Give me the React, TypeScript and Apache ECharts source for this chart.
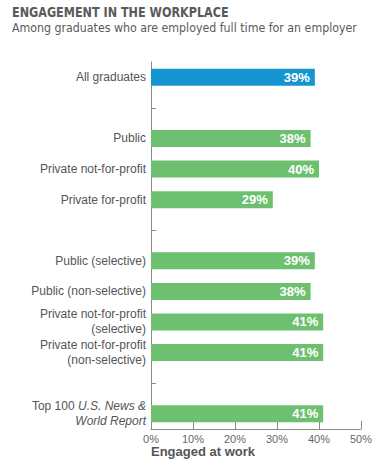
import React, { useEffect, useRef } from "react";
import * as echarts from "echarts";

const categories = [
  "All graduates",
  "gap1",
  "Public",
  "Private not-for-profit",
  "Private for-profit",
  "gap2",
  "Public (selective)",
  "Public (non-selective)",
  "Private not-for-profit\n(selective)",
  "Private not-for-profit\n(non-selective)",
  "gap3",
  "Top 100",
];
const values: (number | null)[] = [39, null, 38, 40, 29, null, 39, 38, 41, 41, null, 41];
const highlight = [true, false, false, false, false, false, false, false, false, false, false, false];
const xTicks = [0, 10, 20, 30, 40, 50];

const BLUE = "#1595d0";
const GREEN = "#6cc070";

export default function App() {
  const ref = useRef<HTMLDivElement>(null);
  useEffect(() => {
    const chart = echarts.init(ref.current!, null, { renderer: "svg" });
    chart.setOption({
      animation: false,
      graphic: [
        {
          type: "text",
          x: 12,
          y: 5,
          scaleX: 0.89,
          style: {
            text: "ENGAGEMENT IN THE WORKPLACE",
            font: 'bold 14px "DejaVu Sans Condensed", "DejaVu Sans"',
            fill: "#5a5a5a",
            textVerticalAlign: "top",
          },
        },
        {
          type: "text",
          x: 12,
          y: 21,
          scaleX: 0.945,
          style: {
            text: "Among graduates who are employed full time for an employer",
            font: '13px "DejaVu Sans Condensed", "DejaVu Sans"',
            fill: "#5a5a5a",
            textVerticalAlign: "top",
          },
        },
        {
          type: "text",
          left: 151,
          top: 445,
          style: {
            text: "Engaged at work",
            font: 'bold 13px "Liberation Sans", Arial',
            fill: "#555555",
          },
        },
      ],
      grid: { left: 151, right: 19, top: 62, bottom: 36 },
      xAxis: {
        type: "value",
        min: xTicks[0],
        max: xTicks[xTicks.length - 1],
        interval: 10,
        splitLine: { show: false },
        axisLine: { show: true, lineStyle: { color: "#8a8a8a", width: 1 } },
        axisTick: { show: true, inside: true, length: 8, lineStyle: { color: "#8a8a8a" } },
        axisLabel: {
          formatter: "{value}%",
          color: "#666666",
          fontSize: 11,
          fontFamily: "Liberation Sans",
          margin: 4,
        },
      },
      yAxis: {
        type: "category",
        inverse: true,
        data: categories,
        axisLine: { show: true, lineStyle: { color: "#8a8a8a", width: 1 } },
        axisTick: {
          show: true,
          inside: true,
          length: 5,
          alignWithLabel: true,
          interval: (i: number, v: string) => v.startsWith("gap"),
          lineStyle: { color: "#8a8a8a" },
        },
        axisLabel: {
          color: "#555555",
          fontSize: 12,
          fontFamily: "Liberation Sans",
          lineHeight: 15,
          margin: 5,
          formatter: (v: string) => {
            if (v.startsWith("gap")) return "";
            if (v === "Top 100") return "Top 100 {i|U.S. News &}\n{i|World Report}";
            return v;
          },
          rich: {
            i: {
              fontStyle: "italic",
              color: "#555555",
              fontSize: 12,
              fontFamily: "Liberation Sans",
              lineHeight: 15,
            },
          },
        },
      },
      series: [
        {
          type: "bar",
          barWidth: 17,
          data: values.map((v, i) => ({
            value: v,
            itemStyle: { color: highlight[i] ? BLUE : GREEN },
          })),
          label: {
            show: true,
            position: "insideRight",
            distance: 5,
            formatter: "{c}%",
            color: "#ffffff",
            fontWeight: "bold",
            fontSize: 13,
            fontFamily: "Liberation Sans",
          },
        },
      ],
    });
    return () => chart.dispose();
  }, []);
  return <div ref={ref} style={{ width: 380, height: 465, position: "absolute", left: 0, top: 0 }} />;
}
